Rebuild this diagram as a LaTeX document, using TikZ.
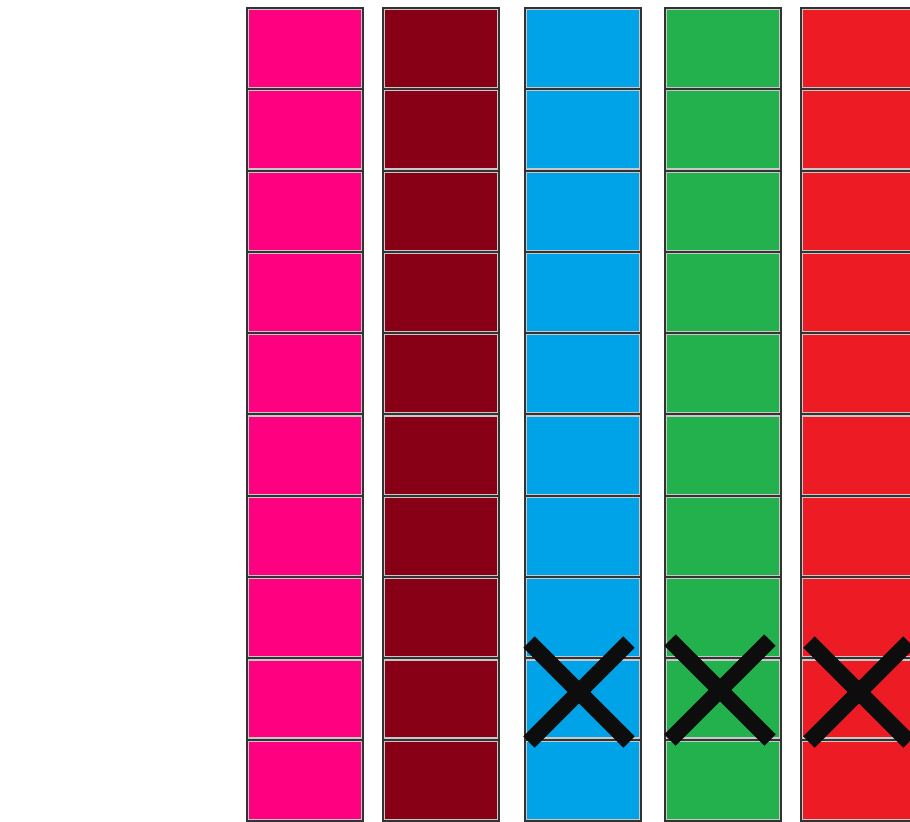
\documentclass[tikz,border=0pt]{standalone}
\usepackage{xcolor}
\usepackage{tikz}
\usetikzlibrary{shapes.misc}
\definecolor{barpink}{HTML}{FF0080}
\definecolor{barmaroon}{HTML}{880015}
\definecolor{barblue}{HTML}{00A2E8}
\definecolor{bargreen}{HTML}{22B14C}
\definecolor{barred}{HTML}{ED1C24}
\definecolor{rimgray}{HTML}{C8C8C8}
\definecolor{inkblack}{HTML}{0D0D0D}
\tikzset{
  cell/.style={rectangle, draw=black!80, line width=1pt, inner sep=0pt, outer sep=0pt,
               minimum width=58pt, minimum height=40.65pt,
               path picture={\draw[rimgray, line width=2.2pt]
                 (path picture bounding box.south west) rectangle
                 (path picture bounding box.north east);}},
  crossmark/.style={cross out, draw=inkblack, line width=8pt, inner sep=0pt,
                    outer sep=0pt, minimum size=50pt}
}

\begin{document}
\begin{tikzpicture}[x=0.5pt, y=-0.5pt]
  \useasboundingbox (0,0) rectangle (910,822);
  \fill[white] (0,0) rectangle (910,822);

  % ten cells in each of the five bars
  \foreach \col/\cx/\tint in {1/305/barpink, 2/441/barmaroon, 3/583/barblue,
                              4/723/bargreen, 5/859/barred}{
    \foreach \row in {1,...,10}{
      \node[cell, fill=\tint] (c-\col-\row) at (\cx, {8+81.3*(\row-0.5)}) {};
    }
  }

  % crossed-out cells
  \node[crossmark] (x-3) at ([xshift=-2pt, yshift=3.5pt]c-3-9.center) {};
  \node[crossmark] (x-4) at ([xshift=-1.5pt, yshift=4.5pt]c-4-9.center) {};
  \node[crossmark] (x-5) at ([yshift=3.5pt]c-5-9.center) {};
\end{tikzpicture}
\end{document}
